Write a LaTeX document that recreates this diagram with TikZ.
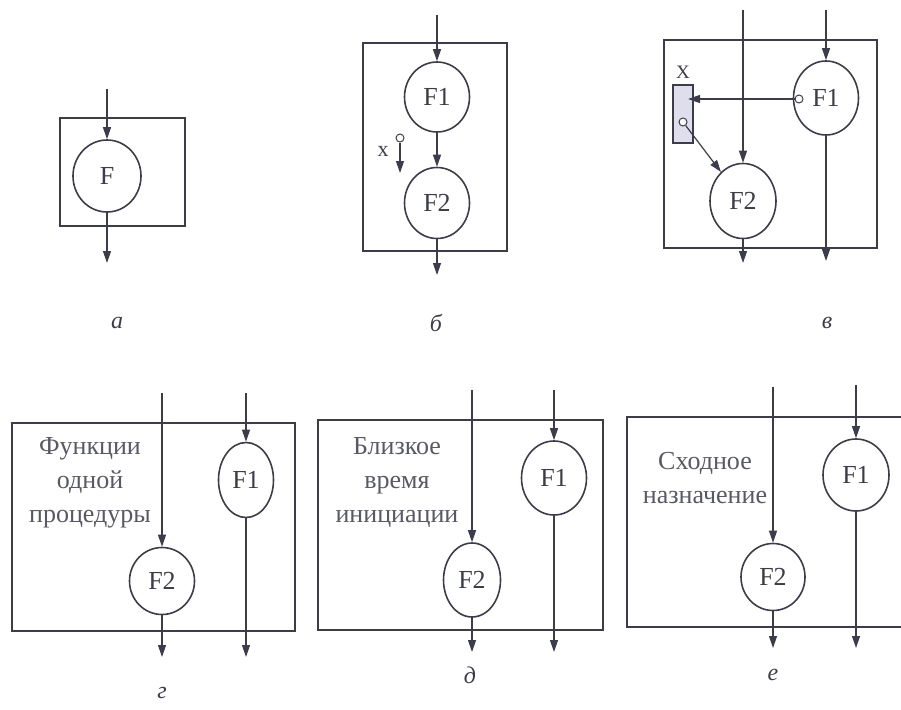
\documentclass[tikz,border=0pt]{standalone}
\usepackage{fontspec}
\setmainfont{Liberation Serif}
\usetikzlibrary{shapes.geometric,arrows.meta}
\definecolor{ink}{RGB}{60,60,75}
\definecolor{xfill}{RGB}{222,222,236}
\begin{document}
\begin{tikzpicture}[x=1pt,y=-1pt,
  fn/.style={ellipse,draw=ink,line width=1.6pt,inner sep=0pt,font=\fontsize{26}{30}\selectfont,text=ink},
  frame/.style={draw=ink,line width=1.2pt},
  arr/.style={draw=ink,line width=1.2pt,-{Triangle[length=12pt,width=8pt]}},
  dot/.style={circle,draw=ink,line width=1pt,fill=white,inner sep=0pt,minimum size=8pt},
  lbl/.style={font=\itshape\fontsize{24}{28}\selectfont,text=ink},
  txt/.style={font=\fontsize{26}{34}\selectfont,text=ink!85,align=center}
]
\useasboundingbox (0,0) rectangle (901,709);
% ---- panel a
\draw[frame] (60,118) rectangle (185,226);
\node[fn,minimum width=68pt,minimum height=72pt] (F) at (107,176) {F};
\coordinate (ain) at (107,89);
\coordinate (aout) at (107,263);
\draw[arr] (ain) -- (F.north);
\draw[arr] (F.south) -- (aout);
\node[lbl] (la) at (117,323) {а};
% ---- panel b
\draw[frame] (363,43) rectangle (507,251);
\node[fn,minimum width=65pt,minimum height=70pt] (bF1) at (437,97) {F1};
\node[fn,minimum width=65pt,minimum height=71pt] (bF2) at (437,203) {F2};
\coordinate (bin) at (437,15);
\coordinate (bout) at (437,275);
\draw[arr] (bin) -- (bF1.north);
\draw[arr] (bF1.south) -- (bF2.north);
\draw[arr] (bF2.south) -- (bout);
\node[dot] (bx) at (400,138) {};
\coordinate (bxend) at (400,173);
\draw[arr] (bx) -- (bxend);
\node[font=\fontsize{22}{24}\selectfont,text=ink] (bxl) at (383,151) {x};
\node[lbl] (lb) at (436,323) {б};
% ---- panel v
\draw[frame] (664,40) rectangle (877,248);
\node[fn,minimum width=65pt,minimum height=74pt] (cF1) at (826,98) {F1};
\node[fn,minimum width=66pt,minimum height=75pt] (cF2) at (743,201) {F2};
\coordinate (cin1) at (826,10);
\coordinate (cin2) at (743,10);
\coordinate (cout1) at (826,261);
\coordinate (cout2) at (743,263);
\draw[arr] (cin1) -- (cF1.north);
\draw[arr] (cin2) -- (cF2.north);
\draw[arr] (cF1.south) -- (cout1);
\draw[arr] (cF2.south) -- (cout2);
\node[draw=ink,line width=1.2pt,fill=xfill,minimum width=20pt,minimum height=58pt,inner sep=0pt] (cX) at (683,114) {};
\node[font=\fontsize{19}{22}\selectfont,text=ink] (cXl) at (683,72) {X};
\node[dot] (cs1) at (799,99) {};
\coordinate (cxin) at (688,99);
\draw[arr] (cs1) -- (cxin);
\node[dot] (cs2) at (683,122) {};
\draw[arr] (cs2) -- (cF2);
\node[lbl] (lc) at (827,323) {в};
% ---- panel g
\draw[frame] (12,423) rectangle (295,631);
\node[fn,minimum width=55pt,minimum height=75pt] (dF1) at (246,480) {F1};
\node[fn,minimum width=65pt,minimum height=67pt] (dF2) at (162,581) {F2};
\coordinate (dinL) at (162,393);
\coordinate (dinR) at (246,393);
\coordinate (doutL) at (162,657);
\coordinate (doutR) at (246,657);
\draw[arr] (dinL) -- (dF2.north);
\draw[arr] (dinR) -- (dF1.north);
\draw[arr] (dF2.south) -- (doutL);
\draw[arr] (dF1.south) -- (doutR);
\node[txt] (dt) at (90,483) {Функции\\одной\\процедуры};
\node[lbl] (ld) at (162,693) {г};
% ---- panel d
\draw[frame] (318,420) rectangle (603,630);
\node[fn,minimum width=65pt,minimum height=74pt] (eF1) at (554,478) {F1};
\node[fn,minimum width=57pt,minimum height=74pt] (eF2) at (472,580) {F2};
\coordinate (einL) at (472,390);
\coordinate (einR) at (554,390);
\coordinate (eoutL) at (472,652);
\coordinate (eoutR) at (554,652);
\draw[arr] (einL) -- (eF2.north);
\draw[arr] (einR) -- (eF1.north);
\draw[arr] (eF2.south) -- (eoutL);
\draw[arr] (eF1.south) -- (eoutR);
\node[txt] (et) at (397,482) {Близкое\\время\\инициации};
\node[lbl] (le) at (470,675) {д};
% ---- panel e
\draw[frame] (905,417) -- (627,417) -- (627,627) -- (905,627);
\node[fn,minimum width=66pt,minimum height=72pt] (fF1) at (856,475) {F1};
\node[fn,minimum width=64pt,minimum height=67pt] (fF2) at (773,577) {F2};
\coordinate (finL) at (773,387);
\coordinate (finR) at (856,385);
\coordinate (foutL) at (773,648);
\coordinate (foutR) at (856,648);
\draw[arr] (finL) -- (fF2.north);
\draw[arr] (finR) -- (fF1.north);
\draw[arr] (fF2.south) -- (foutL);
\draw[arr] (fF1.south) -- (foutR);
\node[txt] (ft) at (705,478) {Сходное\\назначение};
\node[lbl] (lf) at (773,675) {е};
\end{tikzpicture}
\end{document}
